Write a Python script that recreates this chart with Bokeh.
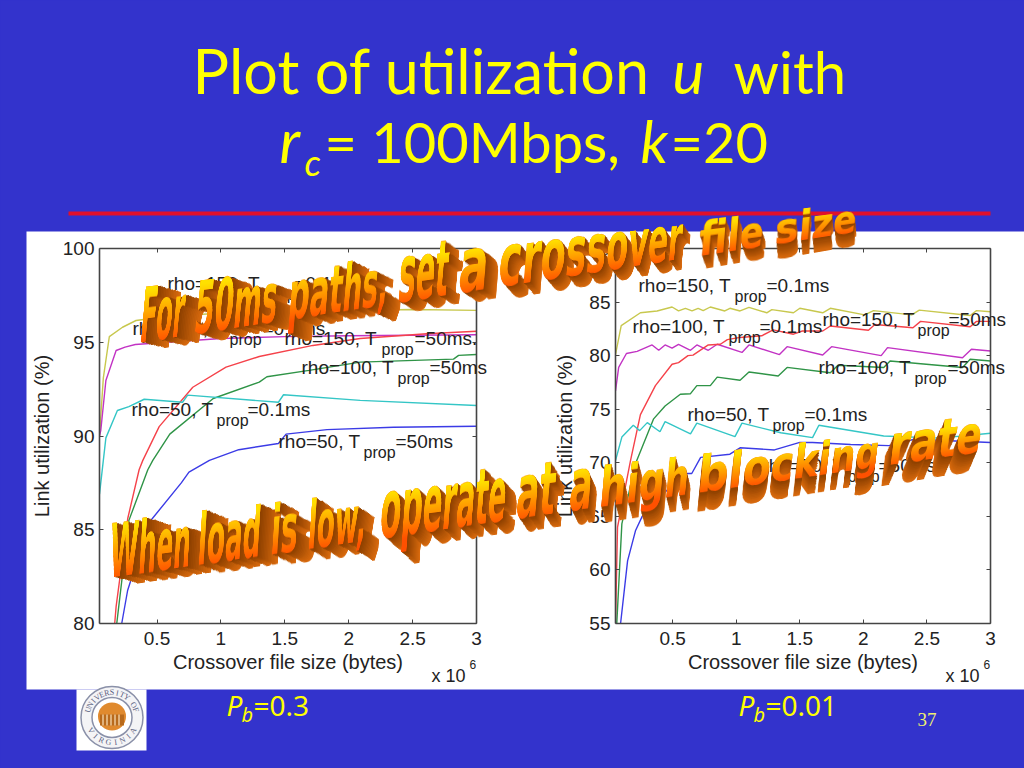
import numpy as np
from bokeh.embed import file_html
from bokeh.resources import INLINE
from bokeh.models import Pane, LinearAxis, FixedTicker
from bokeh.plotting import figure
from bokeh.core.properties import value

# ---------------- data: Pb = 0.3 (x in 10^6 bytes, y in %) ----------------
L_y150_01_x = [0.05, 0.08, 0.127, 0.23, 0.336, 0.6, 1.0, 1.5, 2.0, 2.5, 3.0]
L_y150_01_y = [90.0, 93.1, 95.3, 95.8, 96.16, 96.4, 96.55, 96.65, 96.7, 96.75, 96.7]
L_y100_01_x = [0.05, 0.06, 0.10, 0.18, 0.25, 0.33, 1.0, 1.5, 2.0, 3.0]
L_y100_01_y = [90.0, 90.3, 92.96, 94.56, 94.74, 94.88, 95.2, 95.3, 95.35, 95.4]
L_y150_50_x = [0.169, 0.18, 0.271, 0.36, 0.389, 0.517, 0.78, 1.04, 1.30, 1.72, 2.09, 2.61, 3.0]
L_y150_50_y = [80.0, 80.9, 85.6, 88.2, 88.7, 90.5, 92.6, 93.67, 94.24, 94.83, 95.2, 95.45, 95.59]
L_y100_50_x = [0.185, 0.28, 0.428, 0.467, 0.6, 0.94, 1.30, 1.36, 1.69, 2.09, 2.82, 2.86, 3.0]
L_y100_50_y = [80.0, 85.5, 88.2, 88.7, 90.1, 92.0, 92.87, 93.16, 93.5, 93.94, 94.1, 94.3, 94.35]
L_y50_01_x = [0.05, 0.10, 0.19, 0.28, 0.4, 0.70, 0.74, 1.45, 1.49, 2.09, 3.0]
L_y50_01_y = [86.9, 89.9, 91.36, 91.57, 91.96, 91.8, 92.18, 91.8, 92.2, 91.9, 91.63]
L_y50_50_x = [0.224, 0.27, 0.44, 0.69, 0.75, 0.91, 1.14, 1.45, 1.51, 1.83, 2.35, 3.0]
L_y50_50_y = [80.0, 81.76, 85.4, 87.5, 88.07, 88.7, 89.27, 89.6, 90.1, 90.34, 90.47, 90.52]

# ---------------- data: Pb = 0.01 ----------------
R_y150_01_x = [0.05, 0.095, 0.246, 0.377, 0.495, 0.546, 0.6, 0.652, 0.70, 0.74, 0.796, 0.91, 0.95, 1.03, 1.1, 1.24, 1.28, 1.45, 1.5, 1.68, 1.74, 2.01, 2.08, 2.38, 2.44, 2.84, 2.89, 3.0]
R_y150_01_y = [80.1, 82.8, 84.0, 84.17, 84.54, 84.17, 84.42, 84.17, 84.42, 84.2, 84.54, 84.17, 84.42, 84.17, 84.5, 84.0, 84.3, 84.0, 84.42, 84.0, 84.42, 83.8, 84.2, 83.8, 84.25, 83.75, 84.2, 84.1]
R_y100_01_x = [0.05, 0.075, 0.136, 0.22, 0.338, 0.39, 0.44, 0.495, 0.546, 0.64, 0.69, 0.78, 0.85, 1.045, 1.1, 1.34, 1.4, 1.68, 1.75, 2.14, 2.19, 2.78, 2.85, 3.0]
R_y100_01_y = [76.7, 78.9, 80.2, 80.4, 81.0, 80.5, 81.0, 80.7, 81.06, 80.5, 81.0, 80.5, 81.06, 80.3, 81.0, 80.1, 80.84, 80.06, 80.84, 80.0, 80.75, 79.8, 80.6, 80.44]
R_y150_50_x = [0.05, 0.066, 0.168, 0.246, 0.364, 0.495, 0.546, 0.62, 0.66, 0.78, 0.875, 0.93, 1.03, 1.2, 1.29, 1.45, 1.52, 1.68, 1.74, 2.04, 2.09, 2.39, 2.45, 2.84, 2.89, 3.0]
R_y150_50_y = [55.0, 64.0, 70.2, 74.5, 77.2, 79.2, 79.35, 80.0, 80.05, 81.0, 81.06, 81.5, 81.7, 81.85, 82.4, 82.0, 82.3, 82.3, 82.77, 82.37, 82.9, 82.6, 83.2, 82.7, 83.2, 83.2]
R_y100_50_x = [0.06, 0.10, 0.207, 0.35, 0.44, 0.56, 0.64, 0.69, 0.796, 0.85, 1.03, 1.1, 1.33, 1.4, 1.74, 1.8, 2.16, 2.21, 2.78, 2.84, 3.0]
R_y100_50_y = [55.0, 64.3, 69.9, 74.1, 75.3, 76.4, 76.45, 77.2, 77.2, 78.0, 77.7, 78.47, 78.1, 78.9, 78.4, 79.1, 78.9, 79.5, 78.9, 79.66, 79.5]
R_y50_01_x = [0.05, 0.10, 0.19, 0.24, 0.30, 0.4, 0.44, 0.64, 0.69, 0.99, 1.045, 1.35, 1.6, 1.65, 2.16, 2.6, 3.0]
R_y50_01_y = [70.2, 72.4, 73.5, 73.0, 73.75, 72.9, 73.84, 72.7, 73.7, 72.44, 73.7, 72.8, 72.35, 73.5, 72.5, 72.3, 72.76]
R_y50_50_x = [0.09, 0.145, 0.207, 0.26, 0.58, 0.65, 0.72, 0.95, 1.03, 1.3, 1.5, 1.6, 1.9, 2.2, 2.4, 3.0]
R_y50_50_y = [55.0, 60.85, 63.65, 65.0, 69.0, 69.0, 70.5, 70.8, 71.4, 71.2, 71.9, 71.9, 71.7, 71.6, 72.2, 71.9]

X_TICKS = [0.5, 1, 1.5, 2, 2.5, 3]
X_LABELS = ["0.5", "1", "1.5", "2", "2.5", "3"]
L_Y_TICKS = [80, 85, 90, 95, 100]
R_Y_TICKS = [55, 60, 65, 70, 75, 80, 85, 90]

BLUE = "#3333cc"
SANS = "Liberation Sans"
W, H = 1024, 768
layers = []


def pos(left=0, top=0, **extra):
    d = {"position": "absolute", "left": f"{left}px", "top": f"{top}px"}
    d.update(extra)
    return d


def bare(width, height, xr, yr, styles):
    f = figure(width=width, height=height, x_range=xr, y_range=yr, x_axis_type=None, y_axis_type=None,
               output_backend="svg", toolbar_location=None, min_border=0, styles=styles)
    f.outline_line_color = None
    f.background_fill_color = None
    f.border_fill_color = None
    f.grid.visible = False
    return f


# ---------------- slide background ----------------
bg = bare(W, H, (0, W), (H, 0), pos())
bg.background_fill_color = BLUE
bg.border_fill_color = BLUE
bg.quad(left=26, right=1024, top=231, bottom=689, fill_color="white", line_color=None)
bg.segment(68, 213, 990, 213, line_color="#e0102a", line_width=4)


def txt(f, x, y, s, size, color="#222222", font=SANS, style="normal", align="left", base="middle", angle=0):
    if base == "alphabetic":  # y given as the baseline seen on the page
        y = y - 0.38 * size
    f.text(x=[x], y=[y], text=[s], text_font=value(font), text_font_size=value(f"{size}px"),
           text_font_style=style, text_color=color, text_align=align, text_baseline=base, angle=angle,
           angle_units="deg")


YEL = "#ffff00"
TF = "Lato"
txt(bg, 192, 93, "Plot of utilization", 61, YEL, TF, base="alphabetic")
txt(bg, 672, 93, "u", 60, YEL, TF, "italic", base="alphabetic")
txt(bg, 733, 93, "with", 58, YEL, TF, base="alphabetic")
txt(bg, 279, 162, "r", 60, YEL, TF, "italic", base="alphabetic")
txt(bg, 304, 175, "c", 36, YEL, TF, "italic", base="alphabetic")
txt(bg, 324, 162, "= 100Mbps,", 56, YEL, TF, base="alphabetic")
txt(bg, 640, 162, "k", 58, YEL, TF, "italic", base="alphabetic")
txt(bg, 670, 162, "=20", 56, YEL, TF, base="alphabetic")
for x0, tail in ((226, "=0.3"), (738, "=0.01")):
    txt(bg, x0, 715, "P", 28, YEL, "Noto Sans", "italic", base="alphabetic")
    txt(bg, x0 + 15, 722, "b", 20, YEL, "Noto Sans", "italic", base="alphabetic")
    txt(bg, x0 + 27, 715, tail, 28, YEL, "Noto Sans", base="alphabetic")
txt(bg, 917, 719, "37", 19, "#f0f070", "Liberation Serif")

# logo
bg.quad(left=76, right=146, top=689, bottom=750, fill_color="white", line_color=None)
cx, cy = 111.5, 717
bg.circle(x=[cx], y=[cy], radius=31, fill_color="#f4f4f6", line_color="#8a90a8", line_width=1.5)
bg.circle(x=[cx], y=[cy], radius=20, fill_color="white", line_color="#8a90a8", line_width=1.5)
bg.circle(x=[cx], y=[cy - 1], radius=14, fill_color="#e08a2e", line_color=None)
bg.quad(left=cx - 12, right=cx + 12, top=cy - 3, bottom=cy + 8, fill_color="#b86a1c", line_color=None)
bg.segment(x0=[cx + d for d in (-9, -5, -1, 3, 7)], y0=[cy - 3] * 5, x1=[cx + d for d in (-9, -5, -1, 3, 7)],
           y1=[cy + 8] * 5, line_color="#f6d8ae", line_width=1.3)
R = 25
for s, a0, a1, flip in (("UNIVERSITY OF", -72, 72, False), ("VIRGINIA", 238, 122, True)):
    for i, ch in enumerate(s):
        phi = a0 + (a1 - a0) * i / (len(s) - 1)
        r = np.radians(phi)
        txt(bg, cx + R * np.sin(r), cy - R * np.cos(r), ch, 8, "#5a6080", "Liberation Serif", align="center",
            angle=(180 - phi) if flip else -phi)
layers.append(bg)


# ---------------- the two charts ----------------
def chart(left, top, width, height, m_left, m_right, m_top, m_bottom, xr, yr, yticks, lab_standoff, series):
    f = figure(width=width, height=height, x_range=xr, y_range=yr, output_backend="svg", toolbar_location=None,
               x_axis_location=None, y_axis_location=None, min_border_left=m_left, min_border_right=m_right,
               min_border_top=m_top, min_border_bottom=m_bottom, styles=pos(left, top))
    f.background_fill_color = None
    f.border_fill_color = None
    f.outline_line_color = None
    f.grid.visible = False
    overrides = {t: l for t, l in zip(X_TICKS, X_LABELS)}
    for side in ("below", "above", "left", "right"):
        ticks = X_TICKS if side in ("below", "above") else yticks
        ax = LinearAxis(ticker=FixedTicker(ticks=ticks), axis_line_color="#444444", axis_line_width=1.6,
                        major_tick_in=4, major_tick_out=0, minor_tick_line_color=None,
                        major_tick_line_color="#444444")
        ax.major_label_text_font = SANS
        ax.major_label_text_font_size = "19px"
        ax.major_label_text_color = "#222222"
        ax.axis_label_text_font = SANS
        ax.axis_label_text_font_size = "20px"
        ax.axis_label_text_font_style = "normal"
        ax.axis_label_text_color = "#222222"
        if side == "below":
            ax.major_label_overrides = overrides
            ax.major_label_standoff = 8
            ax.axis_label = "Crossover file size (bytes)"
            ax.axis_label_standoff = 3
        elif side == "left":
            ax.major_label_standoff = 5
            ax.axis_label = "Link utilization (%)"
            ax.axis_label_standoff = lab_standoff
        else:
            ax.major_label_overrides = {t: "" for t in ticks}
            ax.major_label_standoff = 0
        f.add_layout(ax, side)
    for xs, ys, col in series:
        f.line(xs, ys, line_color=col, line_width=1.4)
    return f


C_Y, C_M, C_R, C_G, C_C, C_B = "#c8c84e", "#c233c4", "#f5424a", "#2f9447", "#34c6c6", "#3b3be6"
left_series = [(L_y150_01_x, L_y150_01_y, C_Y), (L_y100_01_x, L_y100_01_y, C_M), (L_y150_50_x, L_y150_50_y, C_R),
               (L_y100_50_x, L_y100_50_y, C_G), (L_y50_01_x, L_y50_01_y, C_C), (L_y50_50_x, L_y50_50_y, C_B)]
right_series = [(R_y150_01_x, R_y150_01_y, C_Y), (R_y100_01_x, R_y100_01_y, C_M), (R_y150_50_x, R_y150_50_y, C_R),
                (R_y100_50_x, R_y100_50_y, C_G), (R_y50_01_x, R_y50_01_y, C_C), (R_y50_50_x, R_y50_50_y, C_B)]
layers.append(chart(26, 231, 464, 458, 73, 14, 17, 66, (0.05, 3), (80, 100), L_Y_TICKS, 7, left_series))
layers.append(chart(540, 231, 484, 458, 75, 34, 17, 66, (0.05, 3), (55, 90), R_Y_TICKS, 10, right_series))

# ---------------- curve labels, in slide pixels ----------------
notes = bare(W, H, (0, W), (H, 0), pos())
LABELS = [
    (167, 283, "rho=150, T", 263, 294, "=0.1ms"), (132, 328, "rho=100, T", 229, 262, "=0.1ms"),
    (284, 338, "rho=150, T", 381, 414, "=50ms."), (301, 367, "rho=100, T", 397, 429, "=50ms"),
    (131, 409, "rho=50, T", 216, 247, "=0.1ms"), (278, 441, "rho=50, T", 363, 395, "=50ms"),
    (638, 285, "rho=150, T", 734, 766, "=0.1ms"), (632, 326, "rho=100, T", 728, 759, "=0.1ms"),
    (822, 319, "rho=150, T", 917, 948, "=50ms"), (818, 367, "rho=100, T", 914, 947, "=50ms"),
    (687, 414, "rho=50, T", 772, 804, "=0.1ms"), (762, 465, "rho=50, T", 847, 878, "=50ms"),
]
for x, y, a, xp, xt, t in LABELS:
    txt(notes, x, y, a, 19)
    txt(notes, xp, y + 11, "prop", 16)
    txt(notes, xt, y, t, 19)
for x in (431, 945):
    txt(notes, x, 675, "x 10", 18)
    txt(notes, x + 38, 664, "6", 12)
layers.append(notes)

# ---------------- WordArt banners: one warped plane per word ----------------
WA_FONT = "DejaVu Sans"
FS = 22
CAP = 0.729 * FS
XH = 0.56 * FS
DESC = 0.25 * FS
C_TOP, C_BOTTOM = "#ffe000", "#ff5000"
NEAR, FAR = np.array([0x8f, 0x41, 0x00]), np.array([0xd8, 0x6a, 0x0e])
STEPS = 14
DEEP = ["#%02x%02x%02x" % tuple(int(c) for c in NEAR + (FAR - NEAR) * i / (STEPS - 1)) for i in range(STEPS)]

TOP_WORDS = [("For", 1.863, 138, 183), ("50ms", 3.029, 192, 275), ("paths,", 3.556, 286, 386), ("set", 1.751, 396, 446),
             ("a", 0.675, 456, 486), ("crossover", 5.473, 496, 680), ("file", 1.799, 697, 763), ("size", 2.198, 773, 855)]
BOT_WORDS = [("When", 3.205, 108, 189), ("load", 2.421, 196, 259), ("is", 0.938, 269, 296), ("low,", 2.334, 306, 366),
             ("operate", 4.405, 378, 504), ("at", 1.153, 514, 553), ("a", 0.675, 567, 590), ("high", 2.111 + 0.372, 597, 687),
             ("blocking", 4.775, 695, 877), ("rate", 2.324, 886, 979)]
LOW_WORDS = {"set", "a", "crossover", "operate", "at", "rate"}


def homography(src, dst):
    A, b = [], []
    for (x, y), (u, v) in zip(src, dst):
        A.append([x, y, 1, 0, 0, 0, -u * x, -u * y]); b.append(u)
        A.append([0, 0, 0, x, y, 1, -v * x, -v * y]); b.append(v)
    h = np.linalg.solve(np.array(A, float), np.array(b, float))
    return np.array([[h[0], h[1], h[2]], [h[3], h[4], h[5]], [h[6], h[7], 1.0]])


def warped(Hm, ox, oy, fw, fh, **extra):
    """A transparent figure on the word's plane.  Its canvas takes the size of the
    transformed box, so the ranges are set to keep one local unit per canvas pixel."""
    M = Hm @ np.array([[1, 0, ox], [0, 1, oy], [0, 0, 1.0]])
    v = [M[0, 0], M[1, 0], 0, M[2, 0], M[0, 1], M[1, 1], 0, M[2, 1], 0, 0, 1, 0, M[0, 2], M[1, 2], 0, M[2, 2]]
    pts = M @ np.array([[0, fw, fw, 0], [0, 0, fh, fh], [1, 1, 1, 1.0]])
    bw = np.ptp(pts[0] / pts[2])
    bh = np.ptp(pts[1] / pts[2])
    st = pos(0, 0, **{"transform": "matrix3d(" + ",".join(f"{a:.8f}" for a in v) + ")",
                      "transform-origin": "0 0"}, **extra)
    return bare(fw, fh, (ox, ox + bw), (oy + bh, oy), st)


def banner(words, tl, tr, bl, br, ex0, ex1, ey0, ey1, slant0, slant1):
    x_min, x_max = words[0][2], words[-1][3]
    extr, faces = [], []
    for word, em, x0, x1 in words:
        lw = em * FS
        y0 = CAP - XH if word in LOW_WORDS else 0
        t0 = (x0 - x_min) / (x_max - x_min); t1 = (x1 - x_min) / (x_max - x_min)
        top = lambda t: tl + (tr - tl) * t
        bot = lambda t: bl + (br - bl) * t
        sl = lambda t: slant0 + (slant1 - slant0) * t
        dst = [(x0 + sl(t0), top(t0)), (x1 + sl(t1), top(t1)), (x1, bot(t1)), (x0, bot(t0))]
        Hm = homography([(0, y0), (lw, y0), (lw, CAP), (0, CAP)], dst)
        tm = (t0 + t1) / 2
        sx = (x1 - x0) / lw
        sy = (bot(tm) - top(tm)) / (CAP - y0)
        dx = (ex0 + (ex1 - ex0) * tm) / sx
        dy = (ey0 + (ey1 - ey0) * tm) / sy
        px = int(abs(dx)) + 3
        fw, fh = int(lw + 2 * px + 1), int(CAP + DESC + dy + 5)
        f = warped(Hm, -px, -2, fw, fh)
        ks = list(range(STEPS, 0, -1))
        f.text(x=[dx * k / STEPS for k in ks], y=[CAP / 2 + dy * k / STEPS for k in ks], text=[word] * STEPS,
               text_color=[DEEP[k - 1] for k in ks], text_font=value(WA_FONT), text_font_style="bold",
               text_font_size=value(f"{FS}px"), text_baseline="middle", text_align="left")
        extr.append(f)
        fw2, fh2 = int(lw + 6), int(CAP + DESC + 5)
        fade = f"linear-gradient(to bottom, black 0px, black {int(y0) + 3}px, transparent {int(CAP) + 3}px)"
        for col, extra in ((C_BOTTOM, {}), (C_TOP, {"mask-image": fade, "-webkit-mask-image": fade})):
            g = warped(Hm, -2, -2, fw2, fh2, **extra)
            g.text(x=[0], y=[CAP / 2], text=[word], text_color=col, text_font=value(WA_FONT),
                   text_font_style="bold", text_font_size=value(f"{FS}px"), text_baseline="middle", text_align="left")
            faces.append(g)
    return extr + faces


layers += banner(TOP_WORDS, 287, 204, 343, 232, 25, 1, 9, 15, 5, 2)
layers += banner(BOT_WORDS, 523, 423, 578, 452, 27, -8, 10, 20, 3, 4)

p = Pane(elements=layers, styles={"position": "relative", "width": f"{W}px", "height": f"{H}px"})
html = file_html(p, INLINE, title="Plot of utilization")
html = html.replace("<body>", f'<body style="margin:0;background:{BLUE};">')
open("out.html", "w").write(html)
